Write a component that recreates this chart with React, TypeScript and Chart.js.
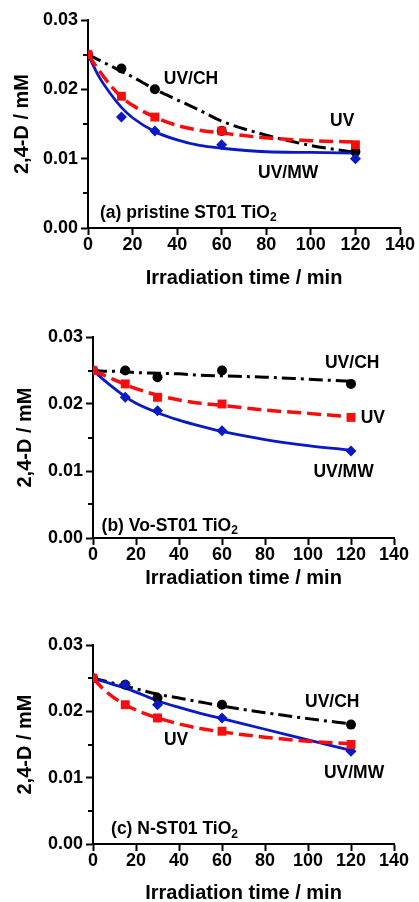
import React, { useEffect, useRef } from 'react';
import { Chart, registerables } from 'chart.js';
Chart.register(...registerables);

// ---------- data ----------
const TIMES = [0, 15, 30, 60, 120];
const FIT_TIMES = [0, 5, 10, 15, 20, 30, 40, 50, 60, 80, 100, 120];
const X_TICKS = [0, 20, 40, 60, 80, 100, 120, 140];
const Y_TICKS = [0, 0.01, 0.02, 0.03];
const Y_TICK_LABELS = ['0.00', '0.01', '0.02', '0.03'];
const Y_MINOR = [0.005, 0.015, 0.025];
const SERIES_NAMES = ['UV/CH', 'UV', 'UV/MW'];
const PANEL_LABELS = ['(a) pristine ST01 TiO', '(b) Vo-ST01 TiO', '(c) N-ST01 TiO'];
const PANEL_SUB = '2';
const X_TITLE = 'Irradiation time / min';
const Y_TITLE = '2,4-D / mM';

// (a) pristine ST01 TiO2
const A_CH = [0.025, 0.023, 0.020, 0.014, 0.011];
const A_UV = [0.025, 0.019, 0.016, 0.014, 0.012];
const A_MW = [0.025, 0.016, 0.014, 0.012, 0.010];
const A_CH_FIT = [0.0250, 0.0242, 0.0234, 0.0226, 0.0218, 0.0200, 0.0185, 0.0170, 0.0154, 0.0134, 0.0119, 0.0109];
const A_UV_FIT = [0.0250, 0.0227, 0.0206, 0.0189, 0.0177, 0.0160, 0.0148, 0.0141, 0.0137, 0.0130, 0.0126, 0.0124];
const A_MW_FIT = [0.0250, 0.0218, 0.0194, 0.0174, 0.0159, 0.0139, 0.0127, 0.0119, 0.0115, 0.0110, 0.0109, 0.0108];

// (b) Vo-ST01 TiO2
const B_CH = [0.025, 0.025, 0.024, 0.025, 0.023];
const B_UV = [0.025, 0.023, 0.021, 0.020, 0.018];
const B_MW = [0.025, 0.021, 0.019, 0.016, 0.013];
const B_CH_FIT = [0.0250, 0.0249, 0.0249, 0.0248, 0.0247, 0.0246, 0.0245, 0.0243, 0.0242, 0.0240, 0.0237, 0.0234];
const B_UV_FIT = [0.0250, 0.0243, 0.0236, 0.0229, 0.0223, 0.0213, 0.0206, 0.0201, 0.0198, 0.0191, 0.0186, 0.0181];
const B_MW_FIT = [0.0250, 0.0236, 0.0223, 0.0211, 0.0201, 0.0187, 0.0176, 0.0167, 0.0159, 0.0147, 0.0138, 0.0131];

// (c) N-ST01 TiO2
const C_CH = [0.025, 0.024, 0.022, 0.021, 0.018];
const C_UV = [0.025, 0.021, 0.019, 0.017, 0.015];
const C_MW = [0.025, 0.024, 0.021, 0.019, 0.014];
const C_CH_FIT = [0.0250, 0.0246, 0.0242, 0.0238, 0.0234, 0.0226, 0.0220, 0.0214, 0.0208, 0.0198, 0.0189, 0.0181];
const C_UV_FIT = [0.0250, 0.0233, 0.0220, 0.0210, 0.0202, 0.0190, 0.0181, 0.0174, 0.0169, 0.0161, 0.0155, 0.0151];
const C_MW_FIT = [0.0250, 0.0245, 0.0240, 0.0235, 0.0229, 0.0216, 0.0206, 0.0197, 0.0189, 0.0173, 0.0157, 0.0141];

// ---------- styles / layout ----------
const BLACK = '#000000';
const RED = 'rgb(250,12,12)';
const BLUE = 'rgb(10,25,195)';
const FAMILY = '"Liberation Sans", Arial, Helvetica, sans-serif';
const W = 419;

type PanelCfg = {
  idx: number;
  top: number; h: number; L: number; R: number; T: number; B: number;
  xTitlePad: number; yTitlePad: number;
  ch: number[]; uv: number[]; mw: number[];
  chFit: number[]; uvFit: number[]; mwFit: number[];
  labelPos: [number, number][]; // for SERIES_NAMES order
  panelPos: [number, number];
};

const PANELS: PanelCfg[] = [
  {
    idx: 0, top: 0, h: 300, L: 88, R: 400, T: 20, B: 228, xTitlePad: 10, yTitlePad: 10,
    ch: A_CH, uv: A_UV, mw: A_MW, chFit: A_CH_FIT, uvFit: A_UV_FIT, mwFit: A_MW_FIT,
    labelPos: [[34, 0.0215], [108.6, 0.0154], [76.3, 0.0079]],
    panelPos: [5.4, 0.00216],
  },
  {
    idx: 1, top: 300, h: 300, L: 93, R: 394, T: 37, B: 238, xTitlePad: 10, yTitlePad: 13,
    ch: B_CH, uv: B_UV, mw: B_MW, chFit: B_CH_FIT, uvFit: B_UV_FIT, mwFit: B_MW_FIT,
    labelPos: [[107.9, 0.0261], [124.5, 0.0179], [102.5, 0.0098]],
    panelPos: [4.0, 0.0018],
  },
  {
    idx: 2, top: 600, h: 320, L: 93, R: 394, T: 45, B: 244, xTitlePad: 14.5, yTitlePad: 13,
    ch: C_CH, uv: C_UV, mw: C_MW, chFit: C_CH_FIT, uvFit: C_UV_FIT, mwFit: C_MW_FIT,
    labelPos: [[98.6, 0.02145], [33.0, 0.0157], [107.4, 0.0107]],
    panelPos: [8.4, 0.0022],
  },
];

const toPts = (xs: number[], ys: number[]) => xs.map((x, i) => ({ x, y: ys[i] }));

function Panel({ cfg }: { cfg: PanelCfg }) {
  const ref = useRef<HTMLCanvasElement>(null);
  useEffect(() => {
    if (!ref.current) return;
    const annot = {
      id: 'annot' + cfg.idx,
      afterDatasetsDraw(chart: any) {
        const { ctx, chartArea } = chart;
        const x = chart.scales.x;
        const y = chart.scales.y;
        ctx.save();
        ctx.strokeStyle = BLACK;
        ctx.lineWidth = 2;
        Y_MINOR.forEach((v) => {
          const py = Math.round(y.getPixelForValue(v));
          ctx.beginPath();
          ctx.moveTo(chartArea.left - 5, py);
          ctx.lineTo(chartArea.left, py);
          ctx.stroke();
        });
        ctx.fillStyle = BLACK;
        ctx.textAlign = 'left';
        ctx.textBaseline = 'middle';
        ctx.font = `bold 17.5px ${FAMILY}`;
        SERIES_NAMES.forEach((name, i) => {
          const [t, v] = cfg.labelPos[i];
          ctx.fillText(name, x.getPixelForValue(t), y.getPixelForValue(v));
        });
        const px = x.getPixelForValue(cfg.panelPos[0]);
        const py = y.getPixelForValue(cfg.panelPos[1]);
        const txt = PANEL_LABELS[cfg.idx];
        ctx.fillText(txt, px, py);
        const w = ctx.measureText(txt).width;
        ctx.font = `bold 12px ${FAMILY}`;
        ctx.fillText(PANEL_SUB, px + w, py + 5);
        ctx.restore();
      },
    };

    const tickFont = { family: FAMILY, size: 18, weight: 'bold' as const, lineHeight: 1 };
    const titleFont = { family: FAMILY, size: 20, weight: 'bold' as const, lineHeight: 1.2 };

    const chart = new Chart(ref.current, {
      type: 'scatter',
      data: {
        datasets: [
          { label: 'UV pts', data: toPts(TIMES, cfg.uv), pointStyle: 'rect', pointRadius: 6.3, backgroundColor: RED, borderColor: RED, borderWidth: 0, showLine: false, order: 0 },
          { label: 'UV/MW pts', data: toPts(TIMES, cfg.mw), pointStyle: 'rectRot', pointRadius: 5.5, backgroundColor: BLUE, borderColor: BLUE, borderWidth: 0, showLine: false, order: 1 },
          { label: 'UV/CH pts', data: toPts(TIMES, cfg.ch), pointStyle: 'circle', pointRadius: 5, backgroundColor: BLACK, borderColor: BLACK, borderWidth: 0, showLine: false, order: 2 },
          { label: 'UV fit', data: toPts(FIT_TIMES, cfg.uvFit), showLine: true, pointRadius: 0, borderColor: RED, borderWidth: 3.5, borderDash: [14, 6], cubicInterpolationMode: 'monotone', fill: false, order: 3 },
          { label: 'UV/MW fit', data: toPts(FIT_TIMES, cfg.mwFit), showLine: true, pointRadius: 0, borderColor: BLUE, borderWidth: 2.8, cubicInterpolationMode: 'monotone', fill: false, order: 4 },
          { label: 'UV/CH fit', data: toPts(FIT_TIMES, cfg.chFit), showLine: true, pointRadius: 0, borderColor: BLACK, borderWidth: 3, borderDash: [14, 5, 3, 5], cubicInterpolationMode: 'monotone', fill: false, order: 5 },
        ] as any,
      },
      options: {
        responsive: false,
        animation: false,
        devicePixelRatio: 1,
        layout: { padding: { left: 0, top: cfg.T, right: W - cfg.R, bottom: 0 } },
        plugins: { legend: { display: false }, tooltip: { enabled: false } },
        scales: {
          x: {
            type: 'linear',
            min: 0,
            max: 140,
            afterBuildTicks: (s: any) => { s.ticks = X_TICKS.map((v) => ({ value: v })); },
            afterFit: (s: any) => { s.height = cfg.h - cfg.B; },
            ticks: { color: BLACK, font: tickFont, padding: 1, maxRotation: 0, callback: (v: any) => String(v) },
            grid: { drawOnChartArea: false, drawTicks: true, tickLength: 7, tickWidth: 2, tickColor: BLACK },
            border: { display: true, color: BLACK, width: 2 },
            title: { display: true, text: X_TITLE, color: BLACK, font: titleFont, padding: { top: 0, bottom: cfg.xTitlePad } },
          },
          y: {
            type: 'linear',
            min: 0,
            max: 0.03,
            afterBuildTicks: (s: any) => { s.ticks = Y_TICKS.map((v) => ({ value: v })); },
            afterFit: (s: any) => { s.width = cfg.L; },
            ticks: { color: BLACK, font: tickFont, padding: 3, callback: (_v: any, i: number) => Y_TICK_LABELS[i] },
            grid: { drawOnChartArea: false, drawTicks: true, tickLength: 7, tickWidth: 2, tickColor: BLACK },
            border: { display: true, color: BLACK, width: 2 },
            title: { display: true, text: Y_TITLE, color: BLACK, font: titleFont, padding: { top: cfg.yTitlePad, bottom: 0 } },
          },
        },
      } as any,
      plugins: [annot],
    });
    return () => chart.destroy();
  }, [cfg]);
  return (
    <canvas
      ref={ref}
      width={W}
      height={cfg.h}
      style={{ position: 'absolute', left: 0, top: cfg.top, width: W, height: cfg.h, display: 'block' }}
    />
  );
}

export default function App() {
  return (
    <div style={{ position: 'absolute', left: 0, top: 0, width: W, height: 902, overflow: 'hidden', background: '#fff' }}>
      {PANELS.map((p) => (
        <Panel key={p.idx} cfg={p} />
      ))}
    </div>
  );
}
